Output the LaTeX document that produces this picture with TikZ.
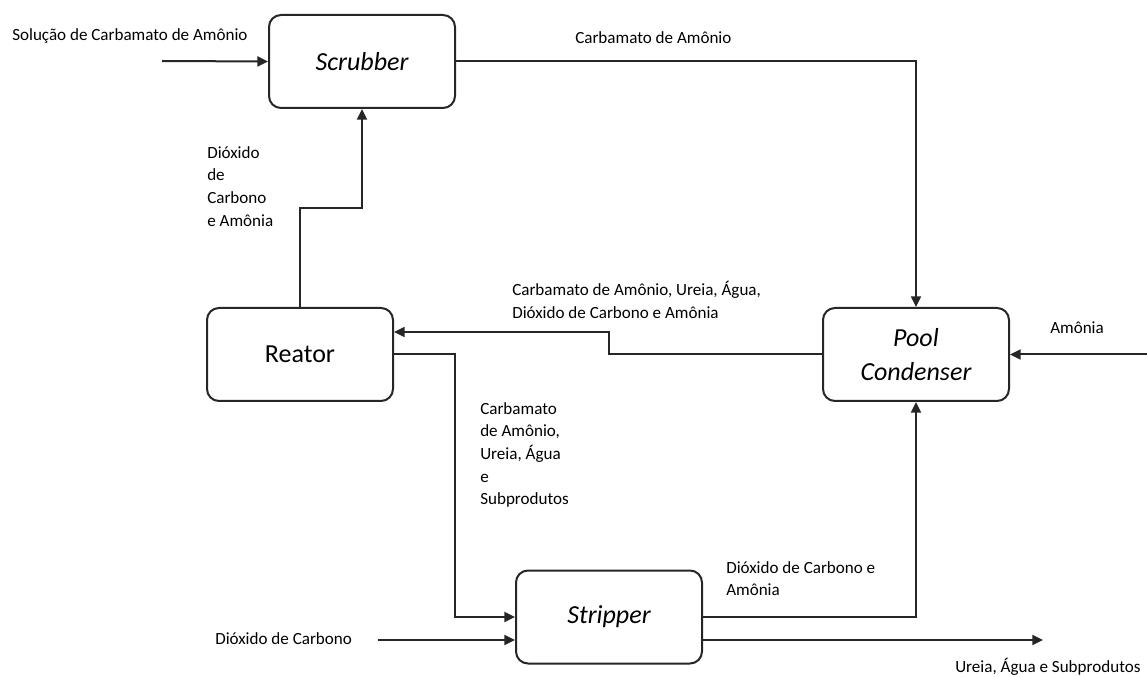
\documentclass[tikz,border=0pt]{standalone}
\usepackage{fontspec}
\setmainfont{Carlito}
\usetikzlibrary{arrows.meta}
\begin{document}
\begin{tikzpicture}[x=0.75pt,y=-0.75pt,
  unit/.style={draw=black!85, line width=1.5pt, rounded corners=9pt,
    minimum width=139.5pt, minimum height=69.75pt, inner sep=0pt,
    font=\fontsize{19.5}{25.5}\selectfont, align=center},
  flow/.style={draw=black!85, line width=1.5pt},
  feed/.style={flow, -{Triangle[length=8pt,width=7.5pt]}},
  lbl/.style={inner sep=0pt, font=\fontsize{12.8}{17}\selectfont,
    align=left, text=black}]
\useasboundingbox (0,0) rectangle (1147,677);

% process units
\node[unit] (scrub) at (362,61.5) {\itshape Scrubber};
\node[unit] (reat)  at (300,354.5) {Reator};
\node[unit] (pool)  at (916,354.5) {\itshape Pool\\\itshape Condenser};
\node[unit] (strip) at (609,617) {\itshape Stripper};

% free ends and bends of the streams
\coordinate (sIn)  at (162,61);
\coordinate (aIn)  at (1147,354.5);
\coordinate (cIn)  at (378,640);
\coordinate (uOut) at (1043,640);
\coordinate (rs)   at (362,208);
\coordinate (rp)   at (609,332);
\coordinate (rq)   at (455,617);

% streams
\draw[feed] (sIn) -- (scrub.west);
\draw[feed] (scrub.east) -| (pool.north);
\draw[feed] (reat.north) |- (rs) -- (scrub.south);
\draw[feed] (pool.west) -| (rp) -- (rp -| reat.east);
\draw[feed] (aIn) -- (pool.east);
\draw[feed] (reat.east) -| (rq) -- (strip.west);
\draw[feed] (cIn) -- (cIn -| strip.west);
\draw[feed] (strip.east) -| (pool.south);
\draw[feed] (uOut -| strip.east) -- (uOut);

% stream labels
\node[lbl, anchor=west] at (12,36) {Solução de Carbamato de Amônio};
\node[lbl, anchor=west] at (575,38) {Carbamato de Amônio};
\node[lbl, anchor=north west] at (207,146) {Dióxido\\de\\Carbono\\e Amônia};
\node[lbl, anchor=north west] at (512,281) {Carbamato de Amônio, Ureia, Água,\\Dióxido de Carbono e Amônia};
\node[lbl, anchor=west] at (1050,328) {Amônia};
\node[lbl, anchor=north west] at (480,402) {Carbamato\\de Amônio,\\Ureia, Água\\e\\Subprodutos};
\node[lbl, anchor=west] at (215,639) {Dióxido de Carbono};
\node[lbl, anchor=north west] at (726,561) {Dióxido de Carbono e\\Amônia};
\node[lbl, anchor=base west] at (955,672) {Ureia, Água e Subprodutos};
\end{tikzpicture}
\end{document}
